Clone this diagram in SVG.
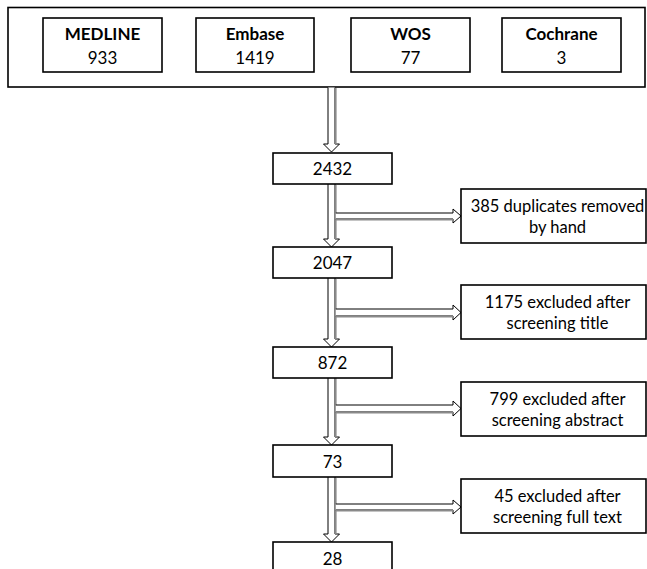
<svg xmlns="http://www.w3.org/2000/svg" width="647" height="569" viewBox="0 0 647 569">
<style>
.box{fill:#fff;stroke:#000;stroke-width:1.6}
.t{font-family:Lato,"Open Sans","Liberation Sans",sans-serif;font-size:17px;fill:#000;text-anchor:middle}
.s{font-size:16.5px}
.b{font-weight:bold}
.arr{fill:#fff;stroke:#000;stroke-width:1}
.sh{fill:none;stroke:#8a8a8a;stroke-width:1.6}
</style>
<rect width="647" height="569" fill="#fff"/>
<g id="sources">
<rect class="box" x="8" y="7.5" width="637" height="79.5"/>
</g>
<g id="medline"><rect class="box" x="43" y="18" width="119" height="54"/><text class="t b" x="102.5" y="40">MEDLINE</text><text class="t" x="102.5" y="64">933</text></g>
<g id="embase"><rect class="box" x="196" y="18" width="118" height="54"/><text class="t b" x="255" y="40">Embase</text><text class="t" x="255" y="64">1419</text></g>
<g id="wos"><rect class="box" x="351" y="18" width="119" height="54"/><text class="t b" x="410.5" y="40">WOS</text><text class="t" x="410.5" y="64">77</text></g>
<g id="cochrane"><rect class="box" x="502" y="18" width="119" height="54"/><text class="t b" x="561.5" y="40">Cochrane</text><text class="t" x="561.5" y="64">3</text></g>

<g id="connectors">
<path class="arr" d="M328,87.5 V144 H323.5 L331.5,152 L339.5,144 H335 V87.5"/>
<line class="sh" x1="335.8" y1="88" x2="335.8" y2="144"/>
<path class="arr" d="M328,184 V239 H323.5 L331.5,247 L339.5,239 H335 V184"/>
<line class="sh" x1="335.8" y1="185" x2="335.8" y2="239"/>
<path class="arr" d="M328,278 V339 H323.5 L331.5,347 L339.5,339 H335 V278"/>
<line class="sh" x1="335.8" y1="279" x2="335.8" y2="339"/>
<path class="arr" d="M328,377 V437 H323.5 L331.5,445 L339.5,437 H335 V377"/>
<line class="sh" x1="335.8" y1="378" x2="335.8" y2="437"/>
<path class="arr" d="M328,477 V534 H323.5 L331.5,542 L339.5,534 H335 V477"/>
<line class="sh" x1="335.8" y1="478" x2="335.8" y2="534"/>
<path class="arr" d="M335.8,213 H453 V209 L461,216 L453,223 V219 H335.8"/>
<line class="sh" x1="336" y1="219.8" x2="453" y2="219.8"/>
<path class="arr" d="M335.8,309 H453 V305 L461,312.5 L453,320 V316 H335.8"/>
<line class="sh" x1="336" y1="316.8" x2="453" y2="316.8"/>
<path class="arr" d="M335.8,405 H453 V401 L461,408.5 L453,416 V412 H335.8"/>
<line class="sh" x1="336" y1="412.8" x2="453" y2="412.8"/>
<path class="arr" d="M335.8,504 H453 V500 L461,507 L453,514 V510 H335.8"/>
<line class="sh" x1="336" y1="510.8" x2="453" y2="510.8"/>
</g>

<g id="n2432"><rect class="box" x="273" y="153" width="119" height="31"/><text class="t" x="332.5" y="175">2432</text></g>
<g id="n2047"><rect class="box" x="273" y="247" width="119" height="31"/><text class="t" x="332.5" y="269">2047</text></g>
<g id="n872"><rect class="box" x="273" y="347" width="119" height="31"/><text class="t" x="332.5" y="369">872</text></g>
<g id="n73"><rect class="box" x="273" y="445" width="119" height="32"/><text class="t" x="332.5" y="468">73</text></g>
<g id="n28"><rect class="box" x="273" y="542" width="119" height="32"/><text class="t" x="332.5" y="565">28</text></g>

<g id="dup"><rect class="box" x="461" y="189" width="185" height="54"/><text class="t s" x="557.5" y="212">385 duplicates removed</text><text class="t s" x="557.5" y="233">by hand</text></g>
<g id="ex-title"><rect class="box" x="461" y="285" width="185" height="54"/><text class="t s" x="557.5" y="308">1175 excluded after</text><text class="t s" x="557.5" y="329">screening title</text></g>
<g id="ex-abstract"><rect class="box" x="461" y="382" width="185" height="54"/><text class="t s" x="557.5" y="405">799 excluded after</text><text class="t s" x="557.5" y="426">screening abstract</text></g>
<g id="ex-full"><rect class="box" x="461" y="479" width="185" height="54"/><text class="t s" x="557.5" y="502">45 excluded after</text><text class="t s" x="557.5" y="523">screening full text</text></g>
</svg>
